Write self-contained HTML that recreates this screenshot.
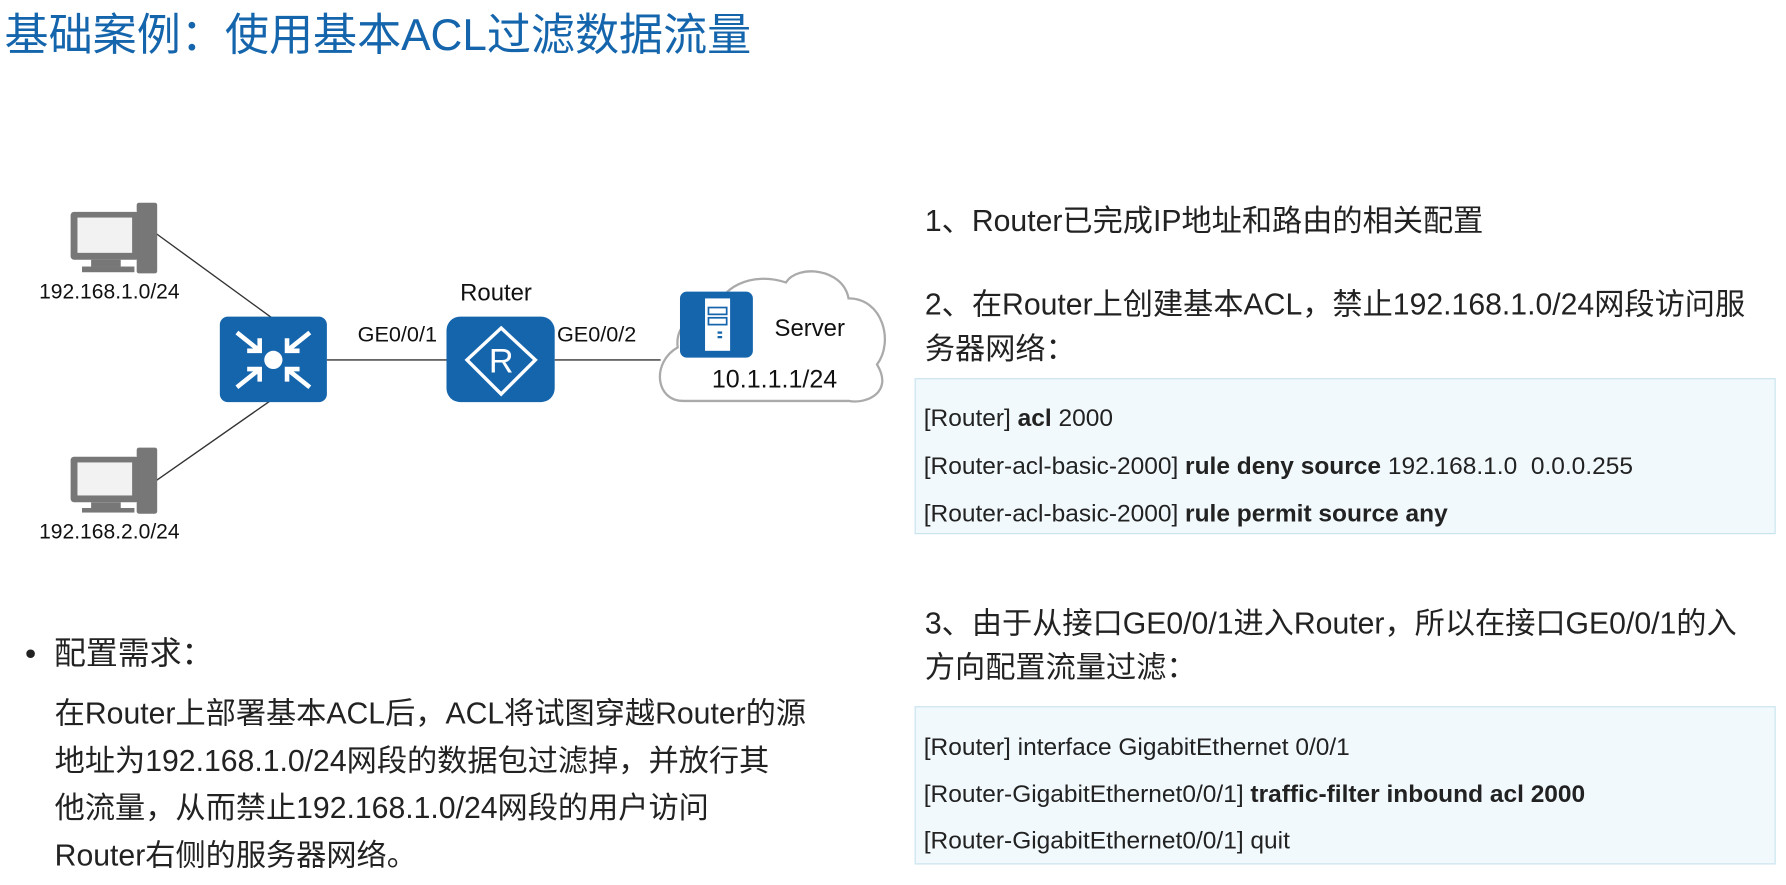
<!DOCTYPE html>
<html><head><meta charset="utf-8"><style>
body{margin:0;width:1786px;height:885px;background:#fff;position:relative;overflow:hidden;font-family:"Liberation Sans","Noto Sans CJK SC",sans-serif;color:#222}
#w{position:absolute;left:0;top:0;width:1568px;height:777px;transform:scale(1.139);transform-origin:0 0}
.a{position:absolute;white-space:nowrap}
.title{left:4px;top:0px;font-size:38.7px;color:#1565ad}
.t{font-size:26.5px}
.box{position:absolute;left:803px;width:754px;background:#f1f9fc;border:1px solid #c8e3ee}
.c{font-size:21.5px}
</style></head><body><div id="w">
<div class="a title">基础案例：使用基本ACL过滤数据流量</div>

<svg class="a" style="left:0;top:0" width="800" height="500">
<g stroke="#333" stroke-width="1.2">
<line x1="137" y1="205" x2="240" y2="280"/>
<line x1="240" y1="350" x2="137" y2="422"/>
<line x1="287" y1="316" x2="392" y2="316"/>
<line x1="487" y1="316" x2="580" y2="316"/>
</g>
<path d="M600,352 C575,352 572,318 595,305 C592,282 615,272 628,278 C630,252 660,238 690,248 C700,232 740,235 745,262 C775,262 785,300 770,320 C785,345 760,355 745,352 Z" fill="#fff" stroke="#aaa" stroke-width="2"/>
<g fill="#777">
<rect x="120" y="178" width="18" height="62" rx="2"/><rect x="62" y="186" width="60" height="42" rx="3"/><rect x="68" y="191" width="48" height="31" fill="#f2f2f2"/><rect x="80" y="228" width="26" height="6"/><rect x="72" y="234" width="46" height="5"/>
<rect x="120" y="393" width="18" height="58" rx="2"/><rect x="62" y="401" width="60" height="40" rx="3"/><rect x="68" y="406" width="48" height="29" fill="#f2f2f2"/><rect x="80" y="441" width="26" height="5"/><rect x="72" y="446" width="46" height="4"/>
</g>
<rect x="193" y="278" width="94" height="75" rx="7" fill="#1565ad"/>
<circle cx="240" cy="316" r="8" fill="#fff"/>
<g stroke="#fff" stroke-width="4" fill="none">
<path d="M208,292 L228,308 M217,308 H228 V297"/>
<path d="M272,292 L252,308 M263,308 H252 V297"/>
<path d="M208,340 L228,324 M217,324 H228 V335"/>
<path d="M272,340 L252,324 M263,324 H252 V335"/>
</g>
<rect x="392" y="278" width="95" height="75" rx="12" fill="#1565ad"/>
<path d="M440,288 L470,316 L440,346 L410,316 Z" fill="none" stroke="#fff" stroke-width="3"/>
<text x="440" y="327" font-size="30" fill="#fff" text-anchor="middle" font-family="Liberation Sans">R</text>
<rect x="597" y="256" width="64" height="58" rx="6" fill="#1565ad"/>
<rect x="619" y="262" width="22" height="46" fill="#fff"/>
<rect x="622" y="270" width="16" height="6" fill="none" stroke="#1565ad" stroke-width="1.5"/>
<rect x="622" y="279" width="16" height="6" fill="none" stroke="#1565ad" stroke-width="1.5"/>
<rect x="630" y="291" width="4" height="2" fill="#1565ad"/><rect x="630" y="295" width="4" height="2" fill="#1565ad"/>
<g font-family="Liberation Sans" fill="#111">
<text x="96" y="262" font-size="18.5" text-anchor="middle">192.168.1.0/24</text>
<text x="96" y="473" font-size="18.5" text-anchor="middle">192.168.2.0/24</text>
<text x="404" y="264" font-size="21">Router</text>
<text x="314" y="300" font-size="19">GE0/0/1</text>
<text x="489" y="300" font-size="19">GE0/0/2</text>
<text x="680" y="295" font-size="21">Server</text>
<text x="625" y="340" font-size="22">10.1.1.1/24</text>
</g>
</svg>

<div class="a" style="left:22px;top:552px;font-size:28px">•&nbsp;&nbsp;配置需求：</div>
<div class="a" style="left:48px;top:606px;font-size:26.5px;line-height:41.5px">在Router上部署基本ACL后，ACL将试图穿越Router的源<br>地址为192.168.1.0/24网段的数据包过滤掉，并放行其<br>他流量，从而禁止192.168.1.0/24网段的用户访问<br>Router右侧的服务器网络。</div>

<div class="a t" style="left:812px;top:172px">1、Router已完成IP地址和路由的相关配置</div>
<div class="a t" style="left:812px;top:248px;line-height:39px">2、在Router上创建基本ACL，禁止192.168.1.0/24网段访问服<br>务器网络：</div>
<div class="box" style="top:332px;height:135px"></div>
<div class="a c" style="left:811px;top:346px;line-height:42px">[Router] <b>acl</b> 2000<br>[Router-acl-basic-2000] <b>rule deny source</b> 192.168.1.0&nbsp; 0.0.0.255<br>[Router-acl-basic-2000] <b>rule permit source any</b></div>

<div class="a t" style="left:812px;top:528px;line-height:39px">3、由于从接口GE0/0/1进入Router，所以在接口GE0/0/1的入<br>方向配置流量过滤：</div>
<div class="box" style="top:620px;height:137px"></div>
<div class="a c" style="left:811px;top:636px;line-height:41px">[Router] interface GigabitEthernet 0/0/1<br>[Router-GigabitEthernet0/0/1] <b>traffic-filter inbound acl 2000</b><br>[Router-GigabitEthernet0/0/1] quit</div>
</div></body></html>
